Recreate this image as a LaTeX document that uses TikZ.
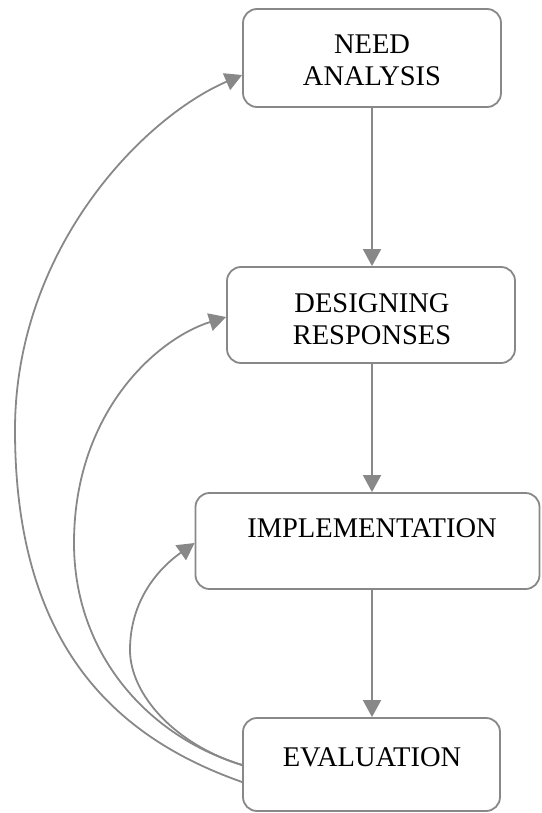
\documentclass[tikz,border=0pt]{standalone}
\usepackage{fontspec}
\setmainfont{Liberation Serif}
\usetikzlibrary{arrows.meta}
\definecolor{linegray}{HTML}{888888}
\begin{document}
\begin{tikzpicture}[x=1pt,y=-1pt,
  box/.style={draw=linegray, line width=1.8pt, rounded corners=14pt, fill=white, inner sep=0pt},
  lbl/.style={anchor=north, inner sep=0pt, align=center, text=black,
    font=\fontsize{28.5}{32}\selectfont},
  conn/.style={draw=linegray, line width=1.8pt, -{Triangle[length=17pt,width=18pt]}}]
\useasboundingbox (0,0) rectangle (541,813);
% boxes
\node[box, minimum width=258pt, minimum height=98pt] (need) at (372,58) {};
\node[box, minimum width=288pt, minimum height=96pt] (des) at (371,315) {};
\node[box, minimum width=344pt, minimum height=96pt] (impl) at (367.5,541) {};
\node[box, minimum width=257pt, minimum height=93pt] (eval) at (371.5,764.5) {};
% texts
\node[lbl] (needtxt) at (372,35) {NEED\\ANALYSIS};
\node[lbl] (destxt) at (372,293) {DESIGNING\\RESPONSES};
\node[lbl] (impltxt) at (372,518) {IMPLEMENTATION};
\node[lbl] (evaltxt) at (372,747) {EVALUATION};
% vertical arrows
\draw[conn] (need.south -| 372,0) -- (des.north -| 372,0);
\draw[conn] (des.south -| 372,0) -- (impl.north -| 372,0);
\draw[conn] (impl.south -| 372,0) -- (eval.north -| 372,0);
% feedback curves
\coordinate (e1) at (eval.west |- 0,782);
\coordinate (e2) at (eval.west |- 0,765);
\draw[conn] (e1) .. controls (120,739) and (15,650) .. (15,430)
  .. controls (15,250) and (142,118) .. (need.west |- 0,75);
\draw[conn] (e2) .. controls (147,736) and (74,653) .. (74,543)
  .. controls (74,413) and (156,339) .. (des.west |- 0,317);
\draw[conn] (e2) .. controls (176,745) and (130,695) .. (130,650)
  .. controls (130,600) and (159,568) .. (impl.west |- 0,543);
\end{tikzpicture}
\end{document}
